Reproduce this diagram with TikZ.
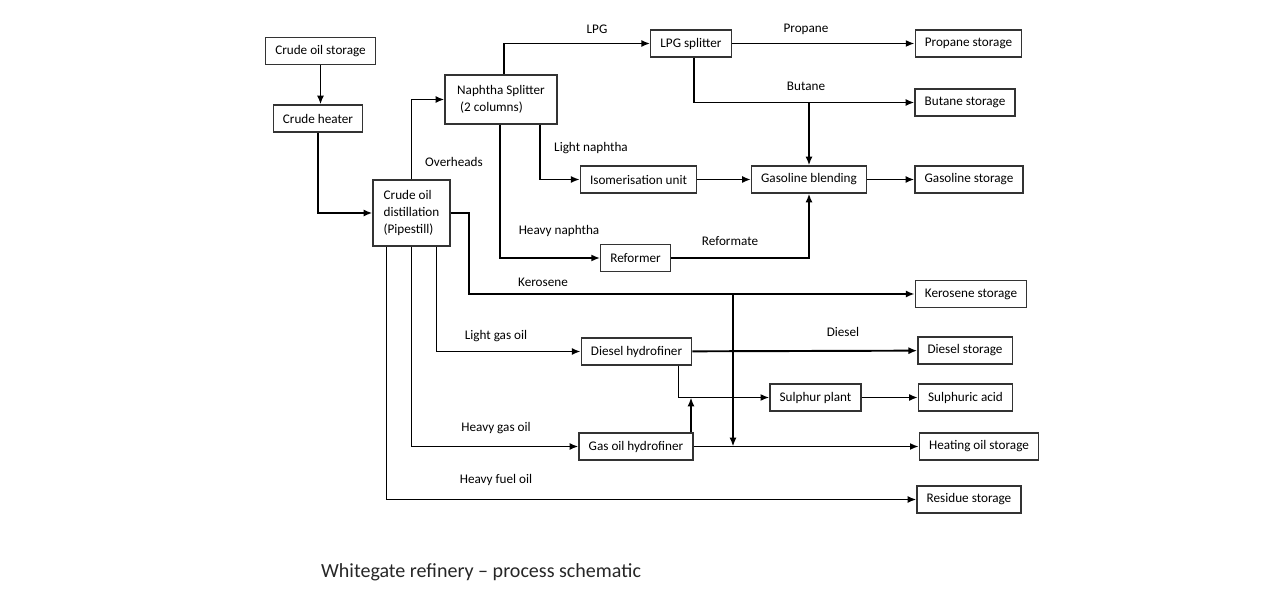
\documentclass[tikz,border=0pt]{standalone}
\usepackage{fontspec}
\setmainfont{Carlito}
\usetikzlibrary{positioning, arrows.meta, calc}
\tikzset{
	unit/.style = {draw=black!80, line width=0.7pt, rectangle, minimum height=0.54cm, inner xsep=5.5pt, font=\fontsize{7.5}{9.7}\selectfont},
	flow/.style = {-{Latex[length=5pt,width=4pt]}, line width=1.1pt},
	stream/.style = {font=\fontsize{7.5}{9.7}\selectfont}
}
\begin{document}
\begin{tikzpicture}[x=0.02cm, y=-0.02cm]
	\useasboundingbox (0,0) rectangle (1280,607);
	
	% process units
	\node[unit] (storage) at (320.5,51) {Crude oil storage};
	\node[unit] (heater) at (318,118.5) {Crude heater};
	\node[unit, align=left, minimum width=1.54cm, minimum height=1.32cm] (pipestill) at (411.5,213) {Crude oil\\distillation\\(Pipestill)};
	\node[unit, align=left, minimum width=2.24cm, minimum height=0.98cm] (naphtha) at (501,99.5) {Naphtha Splitter\\\ (2 columns)};
	\node[unit] (lpg) at (691,43.5) {LPG splitter};
	\node[unit] (isom) at (638.5,179.5) {Isomerisation unit};
	\node[unit] (gasblend) at (809,179.5) {Gasoline blending};
	\node[unit] (reformer) at (635.5,258) {Reformer};
	\node[unit] (diesel) at (636.5,351.5) {Diesel hydrofiner};
	\node[unit] (sulphur) at (815.5,397.5) {Sulphur plant};
	\node[unit] (gasoil) at (636,446.5) {Gas oil hydrofiner};
	
	% storage on the right
	\node[unit] (propane) at (968.5,43.5) {Propane storage};
	\node[unit] (butane) at (965,102.5) {Butane storage};
	\node[unit] (gasstore) at (969,179.5) {Gasoline storage};
	\node[unit] (kerostore) at (971,294) {Kerosene storage};
	\node[unit] (dieselstore) at (965,350.5) {Diesel storage};
	\node[unit] (acid) at (965.5,397.5) {Sulphuric acid};
	\node[unit] (heatstore) at (979,446.5) {Heating oil storage};
	\node[unit] (residue) at (969,499.5) {Residue storage};
	
	% stream names
	\node[stream] (lpglab) at (597,29) {LPG};
	\node[stream] (propanelab) at (806,29) {Propane};
	\node[stream] (butanelab) at (806,86) {Butane};
	\node[stream] (lightlab) at (591,148) {Light naphtha};
	\node[stream] (overlab) at (454,162) {Overheads};
	\node[stream] (heavylab) at (559,231) {Heavy naphtha};
	\node[stream] (reflab) at (730,241) {Reformate};
	\node[stream] (kerolab) at (543,282) {Kerosene};
	\node[stream] (lgolab) at (496,336) {Light gas oil};
	\node[stream] (diesellab) at (843,332) {Diesel};
	\node[stream] (hgolab) at (496,428) {Heavy gas oil};
	\node[stream] (hfolab) at (496,480) {Heavy fuel oil};
	
	\node[font=\fontsize{11.4}{13}\selectfont, text=black!85] (title) at (481,572) {Whitegate refinery – process schematic};
	
	% junctions
	\coordinate (bj) at (gasblend.north |- butane.west);
	\coordinate (sj) at ([xshift=1.1cm]gasoil.north |- sulphur.west);
	\coordinate (kj) at (733,294);
	
	% flows
	\draw[flow] (storage.south) -- (storage.south |- heater.north);
	\draw[flow] (heater.south) |- (pipestill.west);
	\draw[flow] (pipestill.north) |- (naphtha.west);
	\draw[flow] ([xshift=0.06cm]naphtha.north) |- (lpg.west);
	\draw[flow] (lpg) -- (propane);
	\draw[flow] ([xshift=0.06cm]lpg.south) |- (butane.west);
	\draw[flow] (bj) -- (gasblend.north);
	\draw[flow] ([xshift=0.78cm]naphtha.south) |- (isom.west);
	\draw[flow] ([xshift=-0.02cm]naphtha.south) |- (reformer.west);
	\draw[flow] (isom) -- (gasblend);
	\draw[flow] (gasblend) -- (gasstore);
	\draw[flow] (reformer.east) -| (gasblend.south);
	\draw[flow] (pipestill.east) -- ++(18,0) |- (kerostore.west);
	\draw[flow] (kj) -- (kj |- heatstore.west);
	\draw[flow] ([xshift=0.5cm]pipestill.south) |- (diesel.west);
	\draw[flow] (pipestill.south) |- (gasoil.west);
	\draw[flow] ([xshift=-0.5cm]pipestill.south) |- (residue.west);
	\draw[flow] (diesel) -- (dieselstore);
	\draw[flow] ([xshift=0.84cm]diesel.south) |- (sulphur.west);
	\draw[flow] ([xshift=1.1cm]gasoil.north) -- (sj);
	\draw[flow] (sulphur) -- (acid);
	\draw[flow] (gasoil) -- (heatstore);
\end{tikzpicture}
\end{document}
